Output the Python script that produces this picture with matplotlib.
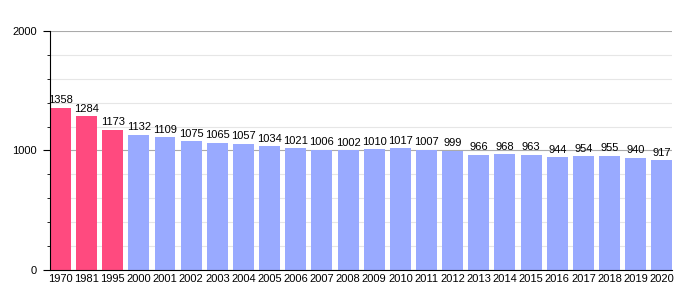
import numpy as np
from matplotlib import pyplot as plt
from matplotlib.ticker import MultipleLocator

years = ['1970', '1981', '1995', '2000', '2001', '2002', '2003', '2004', '2005', '2006',
         '2007', '2008', '2009', '2010', '2011', '2012', '2013', '2014', '2015', '2016',
         '2017', '2018', '2019', '2020']
population = [1358, 1284, 1173, 1132, 1109, 1075, 1065, 1057, 1034, 1021,
              1006, 1002, 1010, 1017, 1007, 999, 966, 968, 963, 944,
              954, 955, 940, 917]
n_census = 3

pink = '#ff4a7f'
blue = '#99aaff'
colors = [pink] * n_census + [blue] * (len(years) - n_census)

plt.rcParams['font.family'] = ['Liberation Sans', 'DejaVu Sans']

fig = plt.figure(figsize=(7, 3), dpi=100)
ax = fig.add_axes([0.0714, 0.1, 0.889, 0.797])

x = np.arange(len(years))
ax.bar(x, population, width=0.8, color=colors, zorder=2)
for xi, v in zip(x, population):
    ax.text(xi, v + 20, str(v), ha='center', va='bottom', fontsize=8, zorder=3)

ax.set_xlim(-0.4, len(years) - 0.6)
ax.set_ylim(0, 2000)
ax.set_xticks(x)
ax.set_xticklabels(years, fontsize=8)
ax.tick_params(axis='x', length=0, pad=3)
ax.yaxis.set_major_locator(MultipleLocator(1000))
ax.yaxis.set_minor_locator(MultipleLocator(200))
ax.tick_params(axis='y', which='major', length=5, labelsize=8, pad=4.5)
ax.tick_params(axis='y', which='minor', length=2)

ax.grid(axis='y', which='major', color='#aaaaaa', linewidth=0.8, zorder=1)
ax.grid(axis='y', which='minor', color='#e6e6e6', linewidth=0.8, zorder=1)
ax.set_axisbelow(True)
for s in ['top', 'right']:
    ax.spines[s].set_visible(False)

fig.savefig('out.png', dpi=100)
